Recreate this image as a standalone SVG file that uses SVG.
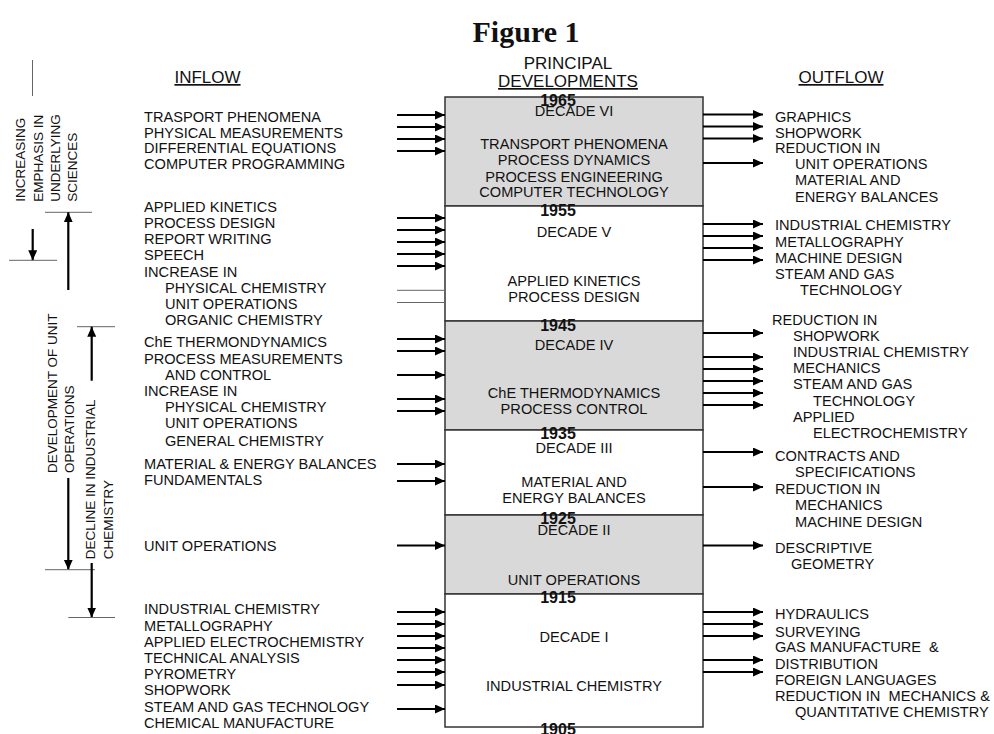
<svg xmlns="http://www.w3.org/2000/svg" width="994" height="734" viewBox="0 0 994 734">
<style>
text{font-family:"Liberation Sans",Arial,sans-serif;fill:#111}
.t{font-size:14.6px}
.c{font-size:14.6px;text-anchor:middle}
.yr{font-size:16px;font-weight:bold;text-anchor:middle}
.h{font-size:17px;text-anchor:middle}
.u{text-decoration:underline}
.v{font-size:13.5px}
.pre{white-space:pre}
.box{stroke:#333;stroke-width:1.5}
.g{fill:#d9d9d9}
.w{fill:#fff}
.ar{stroke:#000;stroke-width:2.2;marker-end:url(#ah)}
.thin{stroke:#666;stroke-width:1}
.va{stroke:#000;stroke-width:2.2}
</style>
<defs>
<marker id="ah" markerUnits="userSpaceOnUse" markerWidth="11" markerHeight="10" refX="10" refY="4.5" orient="auto"><path d="M0,0 L10,4.5 L0,9 z" fill="#000"/></marker>
<marker id="vh" markerUnits="userSpaceOnUse" markerWidth="11" markerHeight="12" refX="10" refY="4.5" orient="auto"><path d="M0,0 L10,4.5 L0,9 z" fill="#000"/></marker>
</defs>
<rect width="994" height="734" fill="#fff"/>
<text x="526" y="42" style="font-family:'Liberation Serif','Times New Roman',serif;font-size:30px;font-weight:bold;text-anchor:middle">Figure 1</text>
<text class="h u" x="207.5" y="83">INFLOW</text>
<text class="h" x="568" y="69">PRINCIPAL</text>
<text class="h u" x="568" y="87">DEVELOPMENTS</text>
<text class="h u" x="841" y="83">OUTFLOW</text>

<g id="timeline">
<rect class="box g" x="445" y="97" width="258" height="109"/>
<rect class="box w" x="445" y="206" width="258" height="115"/>
<rect class="box g" x="445" y="321" width="258" height="109"/>
<rect class="box w" x="445" y="430" width="258" height="85"/>
<rect class="box g" x="445" y="515" width="258" height="79"/>
<rect class="box w" x="445" y="594" width="258" height="133"/>
</g>
<g id="decade6">
<text class="c" x="574" y="116">DECADE VI</text>
<text class="c" x="574" y="149">TRANSPORT PHENOMENA</text>
<text class="c" x="574" y="165">PROCESS DYNAMICS</text>
<text class="c" x="574" y="181.7">PROCESS ENGINEERING</text>
<text class="c" x="574" y="197.3">COMPUTER TECHNOLOGY</text>
</g>
<g id="decade5">
<text class="c" x="574" y="236.7">DECADE V</text>
<text class="c" x="574" y="286">APPLIED KINETICS</text>
<text class="c" x="574" y="301.7">PROCESS DESIGN</text>
</g>
<g id="decade4">
<text class="c" x="574" y="350">DECADE IV</text>
<text class="c" x="574" y="398">ChE THERMODYNAMICS</text>
<text class="c" x="574" y="414">PROCESS CONTROL</text>
</g>
<g id="decade3">
<text class="c" x="574" y="453">DECADE III</text>
<text class="c" x="574" y="486.7">MATERIAL AND</text>
<text class="c" x="574" y="502.7">ENERGY BALANCES</text>
</g>
<g id="decade2">
<text class="c" x="574" y="535">DECADE II</text>
<text class="c" x="574" y="584.7">UNIT OPERATIONS</text>
</g>
<g id="decade1">
<text class="c" x="574" y="641.7">DECADE I</text>
<text class="c" x="574" y="690.7">INDUSTRIAL CHEMISTRY</text>
</g>
<g id="years">
<text class="yr" x="558" y="106">1965</text>
<text class="yr" x="558" y="215.7">1955</text>
<text class="yr" x="558" y="330.7">1945</text>
<text class="yr" x="558" y="439.3">1935</text>
<text class="yr" x="558" y="524">1925</text>
<text class="yr" x="558" y="603">1915</text>
<text class="yr" x="558" y="735">1905</text>
</g>

<g id="inflow">
<text class="t" x="144" y="121.7">TRASPORT PHENOMENA</text>
<text class="t" x="144" y="137.7">PHYSICAL MEASUREMENTS</text>
<text class="t" x="144" y="153.3">DIFFERENTIAL EQUATIONS</text>
<text class="t" x="144" y="169.3">COMPUTER PROGRAMMING</text>
<text class="t" x="144" y="211.7">APPLIED KINETICS</text>
<text class="t" x="144" y="227.7">PROCESS DESIGN</text>
<text class="t" x="144" y="243.7">REPORT WRITING</text>
<text class="t" x="144" y="260">SPEECH</text>
<text class="t" x="144" y="276.7">INCREASE IN</text>
<text class="t" x="165" y="293">PHYSICAL CHEMISTRY</text>
<text class="t" x="165" y="309">UNIT OPERATIONS</text>
<text class="t" x="165" y="325">ORGANIC CHEMISTRY</text>
<text class="t" x="144" y="347">ChE THERMONDYNAMICS</text>
<text class="t" x="144" y="364">PROCESS MEASUREMENTS</text>
<text class="t" x="165" y="380">AND CONTROL</text>
<text class="t" x="144" y="396">INCREASE IN</text>
<text class="t" x="165" y="412">PHYSICAL CHEMISTRY</text>
<text class="t" x="165" y="428">UNIT OPERATIONS</text>
<text class="t" x="165" y="446">GENERAL CHEMISTRY</text>
<text class="t" x="144" y="469.3">MATERIAL &amp; ENERGY BALANCES</text>
<text class="t" x="144" y="485.3">FUNDAMENTALS</text>
<text class="t" x="144" y="551.3">UNIT OPERATIONS</text>
<text class="t" x="144" y="614.3">INDUSTRIAL CHEMISTRY</text>
<text class="t" x="144" y="631">METALLOGRAPHY</text>
<text class="t" x="144" y="647">APPLIED ELECTROCHEMISTRY</text>
<text class="t" x="144" y="663.3">TECHNICAL ANALYSIS</text>
<text class="t" x="144" y="679.3">PYROMETRY</text>
<text class="t" x="144" y="695.3">SHOPWORK</text>
<text class="t" x="144" y="711.7">STEAM AND GAS TECHNOLOGY</text>
<text class="t" x="144" y="727.7">CHEMICAL MANUFACTURE</text>
</g>

<g id="outflow">
<text class="t" x="775" y="121.5">GRAPHICS</text>
<text class="t" x="775" y="137.7">SHOPWORK</text>
<text class="t" x="775" y="153.3">REDUCTION IN</text>
<text class="t" x="795" y="169.3">UNIT OPERATIONS</text>
<text class="t" x="795" y="185.3">MATERIAL AND</text>
<text class="t" x="795" y="201.7">ENERGY BALANCES</text>
<text class="t" x="775" y="230">INDUSTRIAL CHEMISTRY</text>
<text class="t" x="775" y="246.7">METALLOGRAPHY</text>
<text class="t" x="775" y="263">MACHINE DESIGN</text>
<text class="t" x="775" y="279">STEAM AND GAS</text>
<text class="t" x="800" y="295">TECHNOLOGY</text>
<text class="t" x="772" y="325">REDUCTION IN</text>
<text class="t" x="793" y="341">SHOPWORK</text>
<text class="t" x="793" y="357">INDUSTRIAL CHEMISTRY</text>
<text class="t" x="793" y="373">MECHANICS</text>
<text class="t" x="793" y="389">STEAM AND GAS</text>
<text class="t" x="813" y="405.7">TECHNOLOGY</text>
<text class="t" x="793" y="422">APPLIED</text>
<text class="t" x="813" y="438">ELECTROCHEMISTRY</text>
<text class="t" x="775" y="461">CONTRACTS AND</text>
<text class="t" x="795" y="477">SPECIFICATIONS</text>
<text class="t" x="775" y="494">REDUCTION IN</text>
<text class="t" x="795" y="510">MECHANICS</text>
<text class="t" x="795" y="526.7">MACHINE DESIGN</text>
<text class="t" x="775" y="552.7">DESCRIPTIVE</text>
<text class="t" x="791" y="568.7">GEOMETRY</text>
<text class="t" x="775" y="619">HYDRAULICS</text>
<text class="t" x="775" y="636.7">SURVEYING</text>
<text class="t pre" x="775" y="652.3">GAS MANUFACTURE  &amp;</text>
<text class="t" x="775" y="668.7">DISTRIBUTION</text>
<text class="t" x="775" y="684.7">FOREIGN LANGUAGES</text>
<text class="t pre" x="775" y="700.7">REDUCTION IN  MECHANICS &amp;</text>
<text class="t" x="795" y="716.7">QUANTITATIVE CHEMISTRY</text>
</g>

<g id="side-labels">
<text class="v" transform="translate(25,201.7) rotate(-90)">INCREASING</text>
<text class="v" transform="translate(42.7,201.7) rotate(-90)">EMPHASIS IN</text>
<text class="v" transform="translate(60,201.7) rotate(-90)">UNDERLYING</text>
<text class="v" transform="translate(77.3,201.7) rotate(-90)">SCIENCES</text>
<text class="v" transform="translate(56.7,473) rotate(-90)">DEVELOPMENT OF UNIT</text>
<text class="v" transform="translate(74,473) rotate(-90)">OPERATIONS</text>
<text class="v" transform="translate(94.5,559.3) rotate(-90)">DECLINE IN INDUSTRIAL</text>
<text class="v" transform="translate(113,559.3) rotate(-90)">CHEMISTRY</text>
</g>

<g id="connectors">
<line class="ar" x1="397" y1="115" x2="445" y2="115"/>
<line class="ar" x1="397" y1="127" x2="445" y2="127"/>
<line class="ar" x1="397" y1="139" x2="445" y2="139"/>
<line class="ar" x1="397" y1="151" x2="445" y2="151"/>
<line class="ar" x1="397" y1="218" x2="445" y2="218"/>
<line class="ar" x1="397" y1="230" x2="445" y2="230"/>
<line class="ar" x1="397" y1="242" x2="445" y2="242"/>
<line class="ar" x1="397" y1="254" x2="445" y2="254"/>
<line class="ar" x1="397" y1="266" x2="445" y2="266"/>
<line class="thin" x1="397" y1="290.3" x2="445" y2="290.3"/>
<line class="thin" x1="397" y1="302.5" x2="445" y2="302.5"/>
<line class="ar" x1="397" y1="339" x2="445" y2="339"/>
<line class="ar" x1="397" y1="351" x2="445" y2="351"/>
<line class="ar" x1="397" y1="375" x2="445" y2="375"/>
<line class="ar" x1="397" y1="399" x2="445" y2="399"/>
<line class="ar" x1="397" y1="411" x2="445" y2="411"/>
<line class="ar" x1="397" y1="464" x2="445" y2="464"/>
<line class="ar" x1="397" y1="481" x2="445" y2="481"/>
<line class="ar" x1="397" y1="545.5" x2="445" y2="545.5"/>
<line class="ar" x1="397" y1="612" x2="445" y2="612"/>
<line class="ar" x1="397" y1="624" x2="445" y2="624"/>
<line class="ar" x1="397" y1="636" x2="445" y2="636"/>
<line class="ar" x1="397" y1="648" x2="445" y2="648"/>
<line class="ar" x1="397" y1="660" x2="445" y2="660"/>
<line class="ar" x1="397" y1="672" x2="445" y2="672"/>
<line class="ar" x1="397" y1="685" x2="445" y2="685"/>
<line class="ar" x1="397" y1="709" x2="445" y2="709"/>

<line class="ar" x1="703" y1="114.5" x2="763" y2="114.5"/>
<line class="ar" x1="703" y1="126.5" x2="763" y2="126.5"/>
<line class="ar" x1="703" y1="138.5" x2="763" y2="138.5"/>
<line class="ar" x1="703" y1="163" x2="763" y2="163"/>
<line class="ar" x1="703" y1="224" x2="763" y2="224"/>
<line class="ar" x1="703" y1="236" x2="763" y2="236"/>
<line class="ar" x1="703" y1="248" x2="763" y2="248"/>
<line class="ar" x1="703" y1="260" x2="763" y2="260"/>
<line class="ar" x1="703" y1="333" x2="763" y2="333"/>
<line class="ar" x1="703" y1="357" x2="763" y2="357"/>
<line class="ar" x1="703" y1="369" x2="763" y2="369"/>
<line class="ar" x1="703" y1="381" x2="763" y2="381"/>
<line class="ar" x1="703" y1="393" x2="763" y2="393"/>
<line class="ar" x1="703" y1="405" x2="763" y2="405"/>
<line class="ar" x1="703" y1="452" x2="763" y2="452"/>
<line class="ar" x1="703" y1="487" x2="763" y2="487"/>
<line class="ar" x1="703" y1="545.5" x2="763" y2="545.5"/>
<line class="ar" x1="703" y1="612" x2="763" y2="612"/>
<line class="ar" x1="703" y1="624" x2="763" y2="624"/>
<line class="ar" x1="703" y1="636" x2="763" y2="636"/>
<line class="ar" x1="703" y1="660" x2="763" y2="660"/>
<line class="ar" x1="703" y1="672" x2="763" y2="672"/>

<line class="thin" x1="32.5" y1="60" x2="32.5" y2="96"/>
<line class="thin" x1="45" y1="212.3" x2="92" y2="212.3"/>
<line class="va" x1="68.3" y1="290" x2="68.3" y2="212.3" marker-end="url(#vh)"/>
<line class="va" x1="32.7" y1="229" x2="32.7" y2="260.3" marker-end="url(#vh)"/>
<line class="thin" x1="9" y1="260.3" x2="57" y2="260.3"/>
<line class="thin" x1="77" y1="326.7" x2="115" y2="326.7"/>
<line class="va" x1="91.7" y1="380.7" x2="91.7" y2="326.7" marker-end="url(#vh)"/>
<line class="va" x1="68.3" y1="478" x2="68.3" y2="569.7" marker-end="url(#vh)"/>
<line class="thin" x1="45" y1="569.7" x2="95" y2="569.7"/>
<line class="va" x1="91.7" y1="563" x2="91.7" y2="617.5" marker-end="url(#vh)"/>
<line class="thin" x1="68.3" y1="617.5" x2="115" y2="617.5"/>
</g>
</svg>
